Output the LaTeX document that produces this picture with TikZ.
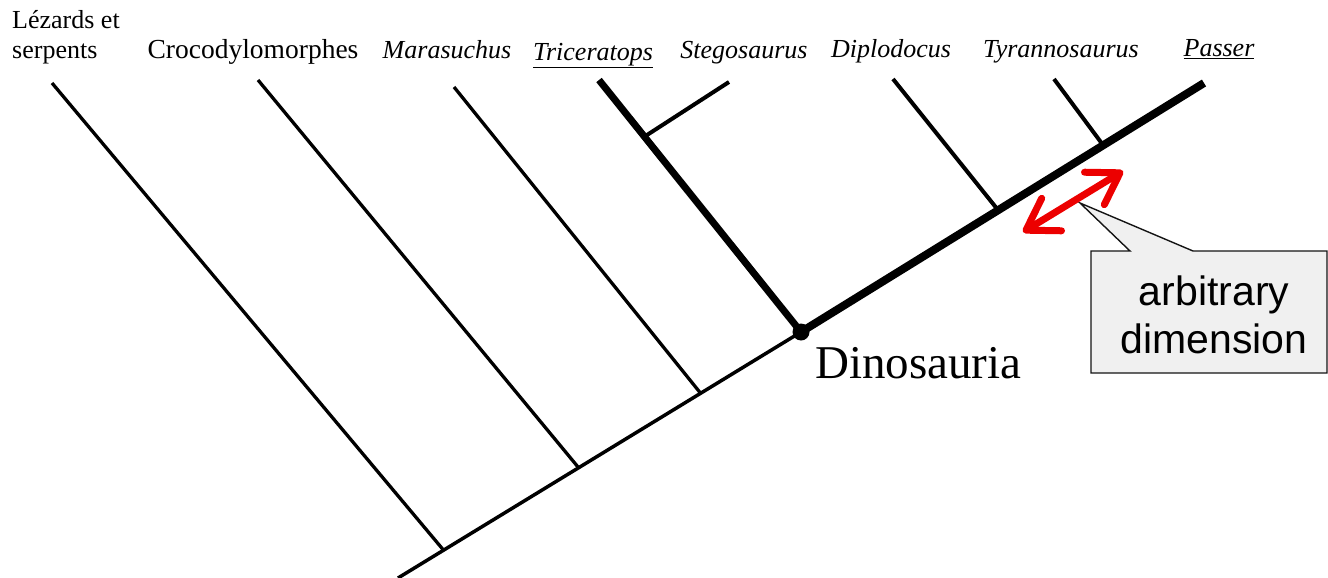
\documentclass[tikz,border=0pt]{standalone}
\usepackage{fontspec}
\setmainfont{Liberation Serif}
\newfontfamily\calfont{Liberation Sans}
\usetikzlibrary{arrows.meta}
\definecolor{arrowred}{RGB}{236,0,0}
\definecolor{callfill}{RGB}{240,240,240}
\definecolor{callline}{RGB}{20,20,20}
\begin{document}
\begin{tikzpicture}[x=1pt,y=-1pt,
  taxon/.style={inner sep=0pt,anchor=base,font=\fontsize{26}{30}\selectfont\itshape},
  taxonr/.style={inner sep=0pt,anchor=base west,font=\fontsize{26}{30}\selectfont},
  trunkthin/.style={line width=3.5pt},
  trunkthick/.style={line width=8pt},
  brlow/.style={line width=3.3pt},
  brmid/.style={line width=4pt},
  brbold/.style={line width=7pt},
  redarrow/.style={draw=arrowred,line width=7pt,
    {Straight Barb[length=30pt,width=38pt,round]}-{Straight Barb[length=30pt,width=38pt,round]}},
  callshape/.style={fill=callfill,draw=callline,line width=1.4pt,line join=miter},
  calltext/.style={inner sep=0pt,anchor=base,font=\calfont\fontsize{41}{48}\selectfont},
]
\useasboundingbox (0,0) rectangle (1328,578);

% labels
\node[taxonr] (lez1) at (12,29) {Lézards et};
\node[taxonr] (lez2) at (12,59) {serpents};
\node[taxon,font=\fontsize{27.5}{30}\selectfont] (croc) at (253,59) {Crocodylomorphes};
\node[taxon] (mara) at (447,59) {Marasuchus};
\node[taxon] (tric) at (593,60) {\underline{Triceratops}};
\node[taxon] (steg) at (744,59) {Stegosaurus};
\node[taxon] (dipl) at (891,58) {Diplodocus};
\node[taxon] (tyra) at (1061,58) {Tyrannosaurus};
\node[taxon] (pass) at (1219,57) {\underline{Passer}};

% tree points
\coordinate (root) at (398,578);
\node[circle,fill=black,inner sep=0pt,minimum size=17pt] (dino) at (801,332) {};
\coordinate (j1) at (443,549.5);
\coordinate (j2) at (578,467);
\coordinate (j3) at (700,392.5);
\coordinate (jS) at (647,135);
\coordinate (j4) at (998,210);
\coordinate (j5) at (1103,145);
\coordinate (ptop) at (1204,83);
\coordinate (tlez) at (52,83);
\coordinate (tcroc) at (258,80);
\coordinate (tmara) at (454,87);
\coordinate (ttric) at (599,80);
\coordinate (tsteg) at (729,82);
\coordinate (tdipl) at (893,79);
\coordinate (ttyra) at (1054,79);

% branches
\draw[brlow] (tlez) -- (j1);
\draw[brlow] (tcroc) -- (j2);
\draw[brlow] (tmara) -- (j3);
\draw[brbold] (ttric) -- (dino.center);
\draw[brmid] (tsteg) -- (jS);
\draw[brmid] (tdipl) -- (j4);
\draw[brmid] (ttyra) -- (j5);
\draw[trunkthin] (root) -- (dino.center);
\draw[trunkthick] (dino.center) -- (ptop);

\node[inner sep=0pt,anchor=base west,font=\fontsize{47}{52}\selectfont] (dinolbl) at (815,378) {Dinosauria};

% callout
\coordinate (cnw) at (1091,251);
\coordinate (cne) at (1327,251);
\coordinate (cse) at (1327,373);
\coordinate (csw) at (1091,373);
\coordinate (cb1) at (1130,251);
\coordinate (cb2) at (1193,251);
\coordinate (ctip) at (1080,203);
\path[callshape] (cnw) -- (cb1) -- (ctip) -- (cb2) -- (cne) -- (cse) -- (csw) -- cycle;
\node[calltext] (ct1) at (1214,305) {arbitrary};
\node[calltext] (ct2) at (1214,353) {dimension};

% red arrow
\coordinate (ra) at (1023,232);
\coordinate (rb) at (1123,171);
\draw[redarrow] (ra) -- (rb);
\end{tikzpicture}
\end{document}
